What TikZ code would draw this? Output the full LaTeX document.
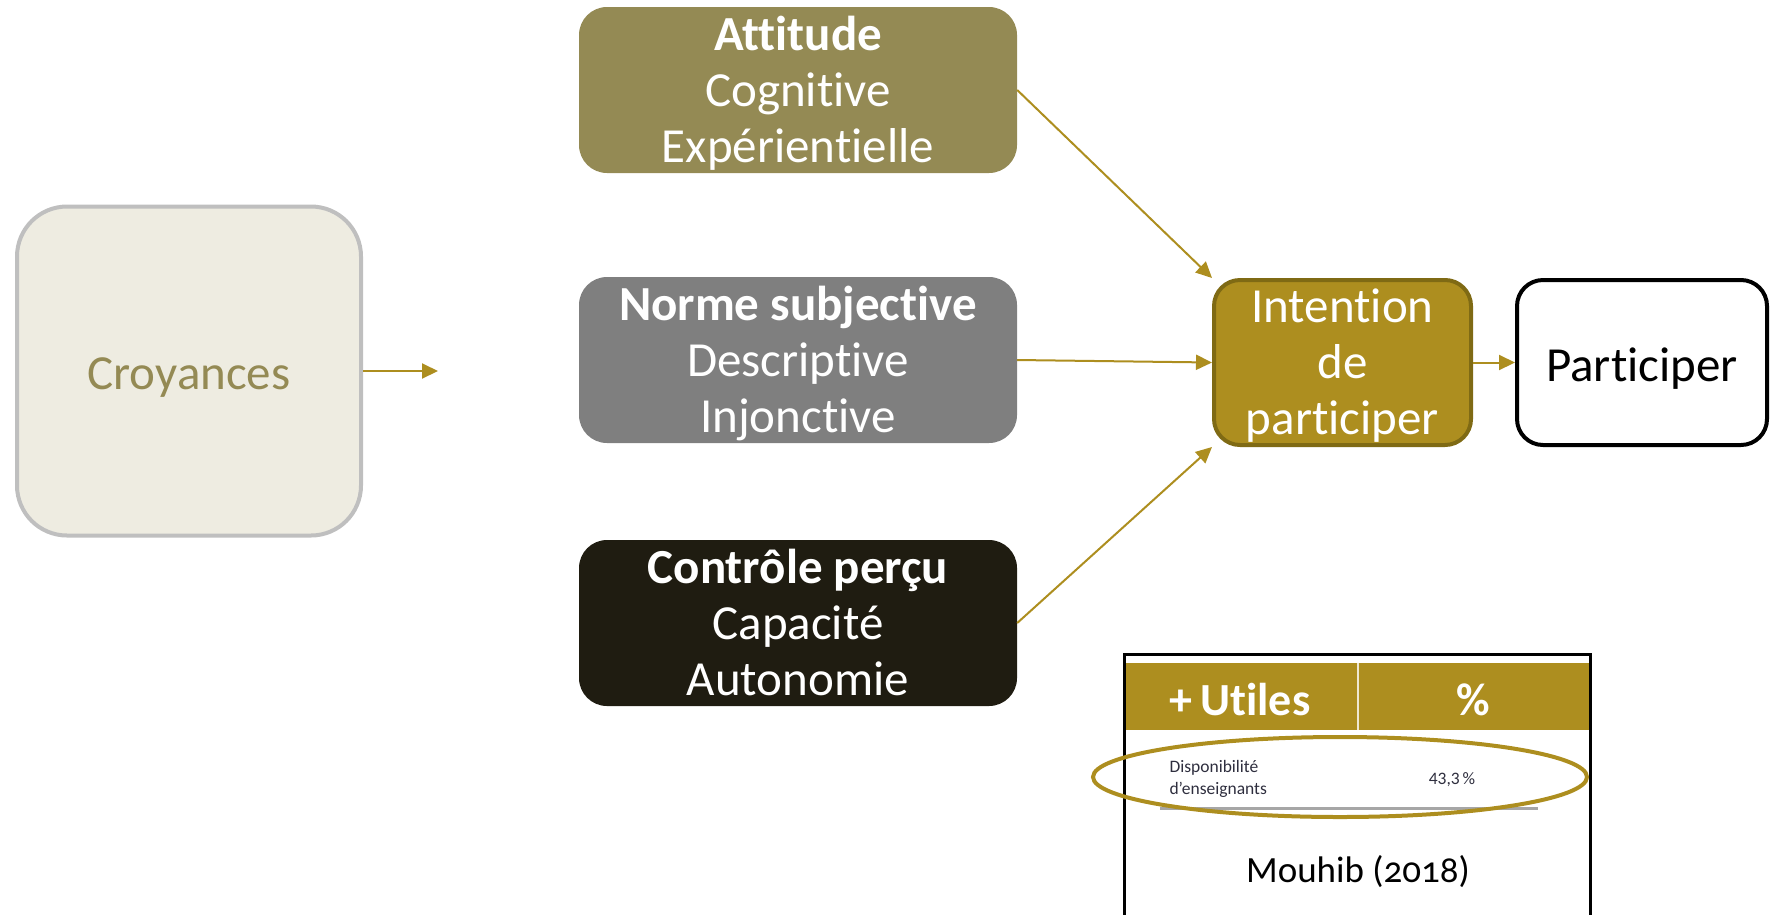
\documentclass[tikz,border=0pt]{standalone}
\usepackage{fontspec}
\setmainfont{Carlito}[Ligatures={NoCommon,NoRequired,NoContextual}]
\usetikzlibrary{arrows.meta, shapes.geometric}

\definecolor{attcol}{HTML}{948A54}
\definecolor{normcol}{HTML}{7F7F7F}
\definecolor{ctrlcol}{HTML}{1F1C11}
\definecolor{gold}{HTML}{AD8E1F}
\definecolor{goldline}{HTML}{7F6A14}
\definecolor{croyfill}{HTML}{EEECE1}
\definecolor{croyline}{HTML}{BFBFBF}
\definecolor{rowtext}{HTML}{2E2E3E}

\begin{document}
\begin{tikzpicture}[x=1pt,y=-1pt,>={Triangle[length=16pt,width=15pt]},
  link/.style={->,draw=gold,line width=2pt},
  factor node/.style={rectangle,rounded corners=28pt,minimum width=438pt,minimum height=166pt,
    inner sep=0pt,align=center,text=white,text height=144pt,text depth=0pt,
    font=\fontsize{49}{56}\selectfont},
  end node/.style={rectangle,rounded corners=26pt,line width=4pt,minimum height=165pt,
    inner sep=0pt,align=center,font=\fontsize{49}{56}\selectfont},
  head text/.style={text=white,font=\bfseries\fontsize{46}{52}\selectfont},
  row text/.style={text=rowtext,font=\fontsize{17.5}{22}\selectfont}]

    \useasboundingbox (0,0) rectangle (1771,914);

    \node[rectangle,rounded corners=50pt,draw=croyline,fill=croyfill,line width=4pt,
      minimum width=344pt,minimum height=329pt,text=attcol,text height=37pt,text depth=0pt,
      font=\fontsize{49}{56}\selectfont] (croy) at (189,371) {Croyances};
    \coordinate (croy end) at (438,371);

    \node[factor node,fill=attcol] (att) at (798,90) {\textbf{Attitude}\\Cognitive\\Expérientielle};
    \node[factor node,fill=normcol] (norm) at (798,360) {\textbf{Norme subjective}\\Descriptive\\Injonctive};
    \node[factor node,fill=ctrlcol] (ctrl) at (798,623) {\textbf{Contrôle perçu}\\Capacité\\Autonomie};

    \node[end node,draw=goldline,fill=gold,text=white,minimum width=257pt,
      text height=144pt,text depth=0pt] (int) at (1342.5,362.5) {Intention\\de\\participer};
    \node[end node,draw=black,fill=white,minimum width=250pt,text height=37pt,text depth=0pt] (part) at (1642,362.5) {Participer};

    \draw[link] (croy) -- (croy end);
    \draw[link] (att.east) -- (int.north west);
    \draw[link] (norm.east) -- (int.west);
    \draw[link] (ctrl.east) -- (int.south west);
    \draw[link] (int) -- (part);

    \draw[line width=3pt] (1124.5,930) -- (1124.5,654.5) -- (1590.5,654.5) -- (1590.5,930);
    \node[rectangle,fill=gold,minimum width=463pt,minimum height=67pt,inner sep=0pt] (head) at (1357.5,696.5) {};
    \draw[white!80!gold,line width=2pt] (head.north) -- (head.south);
    \node[head text] (utiles) at (1240,700) {+\,Utiles};
    \node[head text] (pct) at (1473,700) {\%};

    \node[row text,anchor=west,align=left] (dispo) at (1166,779) {Disponibilité\\d'enseignants};
    \node[row text] (val) at (1452,780) {43,3\,\%};
    \draw[gray!70,line width=3pt] (1160,808) -- (1538,808);
    \node[ellipse,draw=gold,line width=4pt,minimum width=494pt,minimum height=80pt] (ring) at (1340,777) {};

    \node[font=\fontsize{37}{42}\selectfont] (src) at (1358,872) {Mouhib ({\addfontfeature{Numbers=OldStyle}2018})};
\end{tikzpicture}
\end{document}
